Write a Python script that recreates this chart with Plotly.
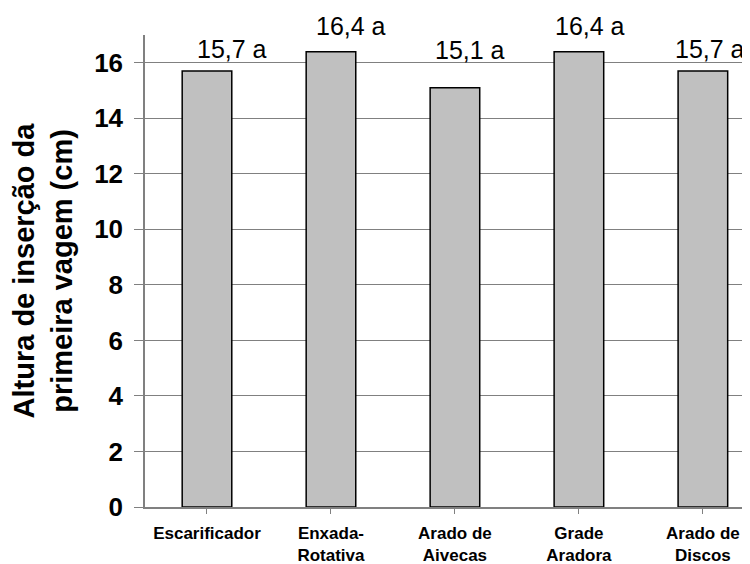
import plotly.graph_objects as go

categories = ["Escarificador", "Enxada-<br>Rotativa", "Arado de<br>Aivecas", "Grade<br>Aradora", "Arado de<br>Discos"]
values = [15.7, 16.4, 15.1, 16.4, 15.7]
labels = ["15,7 a", "16,4 a", "15,1 a", "16,4 a", "15,7 a"]
y_ticks = [0, 2, 4, 6, 8, 10, 12, 14, 16]

# label pixel nudges (styling)
label_xshift = [25, 20, 15, 11, 7]
label_yshift = [22, 26, 38, 26, 22]

FONT = "Liberation Sans, Arial, sans-serif"

fig = go.Figure()
fig.add_trace(go.Bar(
    x=list(range(len(categories))),
    y=values,
    width=0.40,
    marker=dict(color="#C0C0C0", line=dict(color="#000000", width=1.5)),
    showlegend=False,
    hoverinfo="skip",
))

for i, (v, t) in enumerate(zip(values, labels)):
    fig.add_annotation(
        x=i, y=v, xref="x", yref="y", text=t, showarrow=False,
        xanchor="center", yanchor="middle",
        xshift=label_xshift[i], yshift=label_yshift[i],
        font=dict(family=FONT, size=25, color="#000000"),
    )

# page body adds an 8px margin, so the figure is 8px smaller than the window
fig.update_layout(
    width=742, height=556,
    margin=dict(l=137, r=0, t=27, b=57),
    paper_bgcolor="white", plot_bgcolor="white",
    font=dict(family=FONT, color="#000000"),
    bargap=0.6,
)

fig.update_xaxes(
    tickmode="array",
    tickvals=list(range(len(categories))),
    ticktext=[f"<b>{c}</b>" for c in categories],
    range=[-0.5, 4.38],
    tickson="boundaries",
    ticks="outside", ticklen=5, tickcolor="#808080", tickwidth=1,
    showline=True, linecolor="#808080", linewidth=1.5,
    showgrid=False, zeroline=False,
    tickfont=dict(family=FONT, size=17, color="#000000"),
    ticklabelstandoff=5,
    automargin=False,
)

fig.update_yaxes(
    range=[0, 17],
    tickmode="array", tickvals=y_ticks,
    ticktext=[f"<b>{t}</b>" for t in y_ticks],
    ticks="outside", ticklen=9, tickcolor="#808080", tickwidth=1,
    showline=True, linecolor="#808080", linewidth=1.5,
    showgrid=True, gridcolor="#808080", gridwidth=1,
    zeroline=False,
    tickfont=dict(family=FONT, size=26, color="#000000"),
    ticklabelstandoff=6,
    title=dict(text="<b>Altura de inserção da<br>primeira vagem (cm)</b>",
               font=dict(family=FONT, size=29, color="#000000"), standoff=14),
    automargin=False,
)

fig.write_html("out.html")
